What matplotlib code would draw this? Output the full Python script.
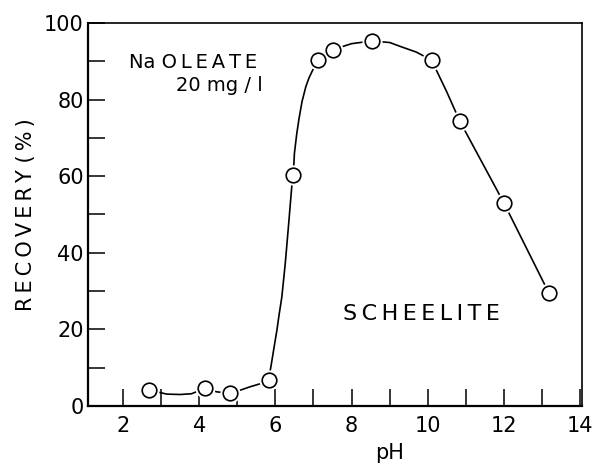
import numpy as np
import matplotlib
matplotlib.use("Agg")
import matplotlib.pyplot as plt
from matplotlib.ticker import MultipleLocator

# measured points (open circles)
ph = [2.67, 4.14, 4.81, 5.82, 6.47, 7.12, 7.50, 8.53, 10.10, 10.84, 12.00, 13.18]
recovery = [4.2, 4.6, 3.3, 6.8, 60.3, 90.3, 93.0, 95.3, 90.3, 74.4, 53.0, 29.5]

# hand-drawn guide curve
curve_ph = [2.67, 3.15, 3.50, 3.80, 4.14, 4.46, 4.81, 5.10, 5.33, 5.60, 5.82,
            5.89, 5.96, 6.04, 6.10, 6.17, 6.26, 6.35, 6.43, 6.47, 6.50, 6.56,
            6.62, 6.70, 6.80, 6.88, 6.96, 7.12, 7.30, 7.50, 8.00, 8.53, 9.00,
            9.30, 9.70, 10.10, 10.50, 10.84, 12.00, 13.18]
curve_rec = [4.2, 3.1, 3.0, 3.2, 4.6, 3.7, 3.3, 4.2, 5.0, 5.8, 6.8,
             10.7, 15.0, 19.8, 24.0, 28.5, 37.3, 47.7, 57.3, 60.3, 66.0, 71.0,
             75.0, 79.5, 83.4, 85.6, 87.3, 90.3, 92.0, 93.0, 94.6, 95.3, 94.9,
             93.8, 92.4, 90.3, 82.0, 74.4, 53.0, 29.5]

x_ticks = [2, 4, 6, 8, 10, 12, 14]
y_ticks = [0, 20, 40, 60, 80, 100]

TS = "\u2009"  # thin space, to imitate the letter-spaced lettering


def spaced(s):
    return TS.join(s)


plt.rcParams["font.family"] = ["DejaVu Sans"]

fig = plt.figure(figsize=(6.01, 4.68), dpi=100)
ax = fig.add_axes([0.1464, 0.1325, 0.822, 0.8184])

ax.plot(curve_ph, curve_rec, color="black", lw=1.2, zorder=2)
# white halo so the line stops short of each circle
ax.plot(ph, recovery, ls="none", marker="o", ms=14.5, mfc="white",
        mec="white", mew=0, zorder=3)
ax.plot(ph, recovery, ls="none", marker="o", ms=10.5, mfc="white",
        mec="black", mew=1.2, zorder=4)

ax.set_xlim(1.08, 14.05)
ax.set_ylim(0, 100)
ax.set_xticks(x_ticks)
ax.set_yticks(y_ticks)
ax.xaxis.set_minor_locator(MultipleLocator(1))
ax.yaxis.set_minor_locator(MultipleLocator(10))
ax.tick_params(which="both", direction="in", length=12, width=1.1,
               top=False, right=False)
ax.tick_params(axis="x", which="major", pad=7, labelsize=15)
ax.tick_params(axis="y", which="major", pad=3, labelsize=15)

for side in ["left", "bottom"]:
    ax.spines[side].set_linewidth(1.6)
for side in ["top", "right"]:
    ax.spines[side].set_linewidth(1.2)

ax.set_xlabel("pH", fontsize=15)
ax.xaxis.set_label_coords(0.611, -0.097)
ax.set_ylabel(spaced("RECOVERY") + " (" + TS + "%" + TS + ")",
              fontsize=15, labelpad=6)

ax.text(2.16, 89.8, "Na " + spaced("OLEATE"), fontsize=14,
        ha="left", va="center")
ax.text(3.39, 83.6, "20 mg / l", fontsize=14, ha="left", va="center")
ax.text(7.78, 24.0, spaced("SCHEELITE"), fontsize=16, ha="left", va="center")

fig.savefig("out.png", dpi=100)
